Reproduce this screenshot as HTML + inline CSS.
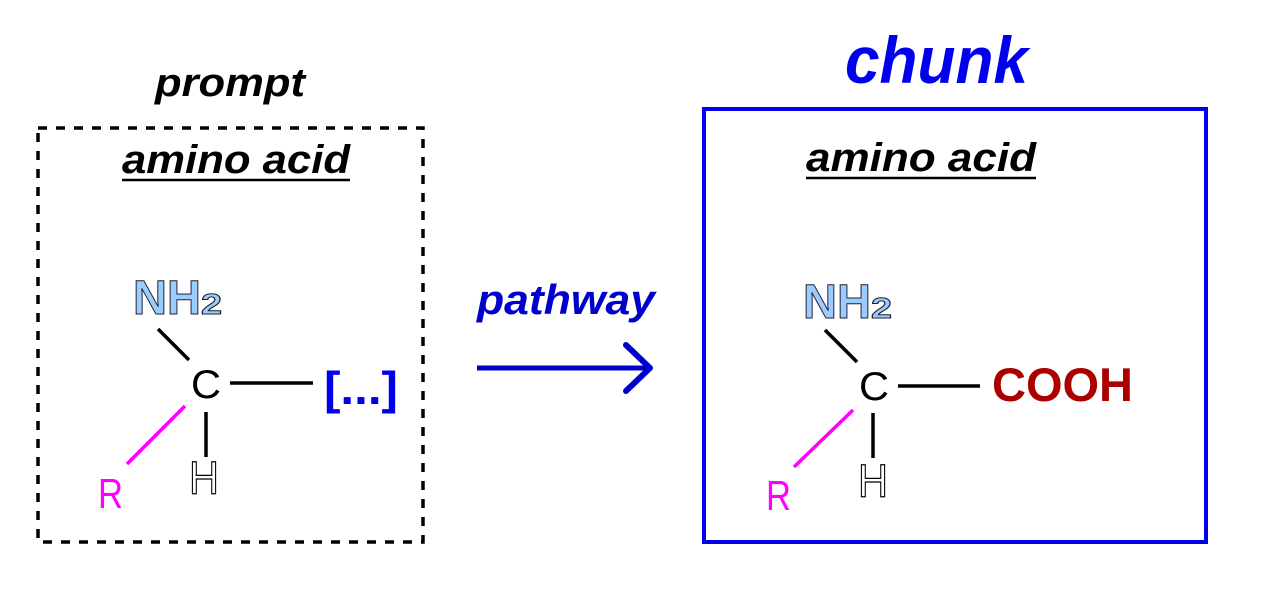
<!DOCTYPE html>
<html><head><meta charset="utf-8"><style>html,body{margin:0;padding:0;background:#fff}svg{display:block}</style></head>
<body>
<svg width="1275" height="614" viewBox="0 0 1275 614" xmlns="http://www.w3.org/2000/svg" font-family="Liberation Sans, sans-serif">
<rect width="1275" height="614" fill="#fff"/>
<!-- left -->
<text x="155" y="96" font-size="40" font-weight="bold" font-style="italic" textLength="150" lengthAdjust="spacingAndGlyphs">prompt</text>
<rect x="38" y="128" width="385" height="414" fill="none" stroke="#000" stroke-width="3.5" stroke-dasharray="9 9"/>
<text x="122" y="173" font-size="40" font-weight="bold" font-style="italic" textLength="228" lengthAdjust="spacingAndGlyphs">amino acid</text>
<line x1="122" y1="180" x2="350" y2="180" stroke="#000" stroke-width="2.5"/>
<text x="133" y="314" font-size="48" font-weight="bold" fill="#99ccff" stroke="#223" stroke-width="1" textLength="68" lengthAdjust="spacingAndGlyphs">NH</text>
<text x="201" y="314" font-size="29" font-weight="bold" fill="#99ccff" stroke="#223" stroke-width="1" textLength="21" lengthAdjust="spacingAndGlyphs">2</text>
<line x1="158" y1="329" x2="189" y2="360" stroke="#000" stroke-width="3.5"/>
<text x="191" y="398" font-size="40" textLength="30" lengthAdjust="spacingAndGlyphs">C</text>
<line x1="230" y1="383" x2="313" y2="383" stroke="#000" stroke-width="3.5"/>
<text x="324" y="404" font-size="46" font-weight="bold" fill="#0000ee" textLength="74" lengthAdjust="spacingAndGlyphs">[...]</text>
<line x1="185" y1="406" x2="127" y2="464" stroke="#ff00ff" stroke-width="3.5"/>
<line x1="206" y1="412" x2="206" y2="457" stroke="#000" stroke-width="3.5"/>
<text x="189" y="494" font-size="46" fill="#fff" stroke="#000" stroke-width="1.2" textLength="30" lengthAdjust="spacingAndGlyphs">H</text>
<text x="98" y="508" font-size="42" fill="#ff00ff" textLength="25" lengthAdjust="spacingAndGlyphs">R</text>
<!-- arrow -->
<text x="477" y="314" font-size="42" font-weight="bold" font-style="italic" fill="#0000cc" textLength="178" lengthAdjust="spacingAndGlyphs">pathway</text>
<line x1="477" y1="368" x2="648" y2="368" stroke="#0000cc" stroke-width="5"/>
<polyline points="626,345 650,368 626,391" fill="none" stroke="#0000cc" stroke-width="6" stroke-linecap="round" stroke-linejoin="round"/>
<!-- right -->
<text x="845" y="83" font-size="66" font-weight="bold" font-style="italic" fill="#0000ee" textLength="183" lengthAdjust="spacingAndGlyphs">chunk</text>
<rect x="704" y="109" width="502" height="433" fill="none" stroke="#0000ee" stroke-width="4"/>
<text x="806" y="171" font-size="40" font-weight="bold" font-style="italic" textLength="230" lengthAdjust="spacingAndGlyphs">amino acid</text>
<line x1="806" y1="178" x2="1036" y2="178" stroke="#000" stroke-width="2.5"/>
<text x="803" y="318" font-size="48" font-weight="bold" fill="#99ccff" stroke="#223" stroke-width="1" textLength="68" lengthAdjust="spacingAndGlyphs">NH</text>
<text x="871" y="318" font-size="29" font-weight="bold" fill="#99ccff" stroke="#223" stroke-width="1" textLength="21" lengthAdjust="spacingAndGlyphs">2</text>
<line x1="825" y1="330" x2="857" y2="362" stroke="#000" stroke-width="3.5"/>
<text x="859" y="400" font-size="40" textLength="30" lengthAdjust="spacingAndGlyphs">C</text>
<line x1="898" y1="386" x2="980" y2="386" stroke="#000" stroke-width="3.5"/>
<text x="992" y="401" font-size="47" font-weight="bold" fill="#aa0000" textLength="141" lengthAdjust="spacingAndGlyphs">COOH</text>
<line x1="853" y1="410" x2="794" y2="467" stroke="#ff00ff" stroke-width="3.5"/>
<line x1="873" y1="413" x2="873" y2="458" stroke="#000" stroke-width="3.5"/>
<text x="858" y="497" font-size="46" fill="#fff" stroke="#000" stroke-width="1.2" textLength="30" lengthAdjust="spacingAndGlyphs">H</text>
<text x="766" y="510" font-size="42" fill="#ff00ff" textLength="25" lengthAdjust="spacingAndGlyphs">R</text>
</svg>
</body></html>
